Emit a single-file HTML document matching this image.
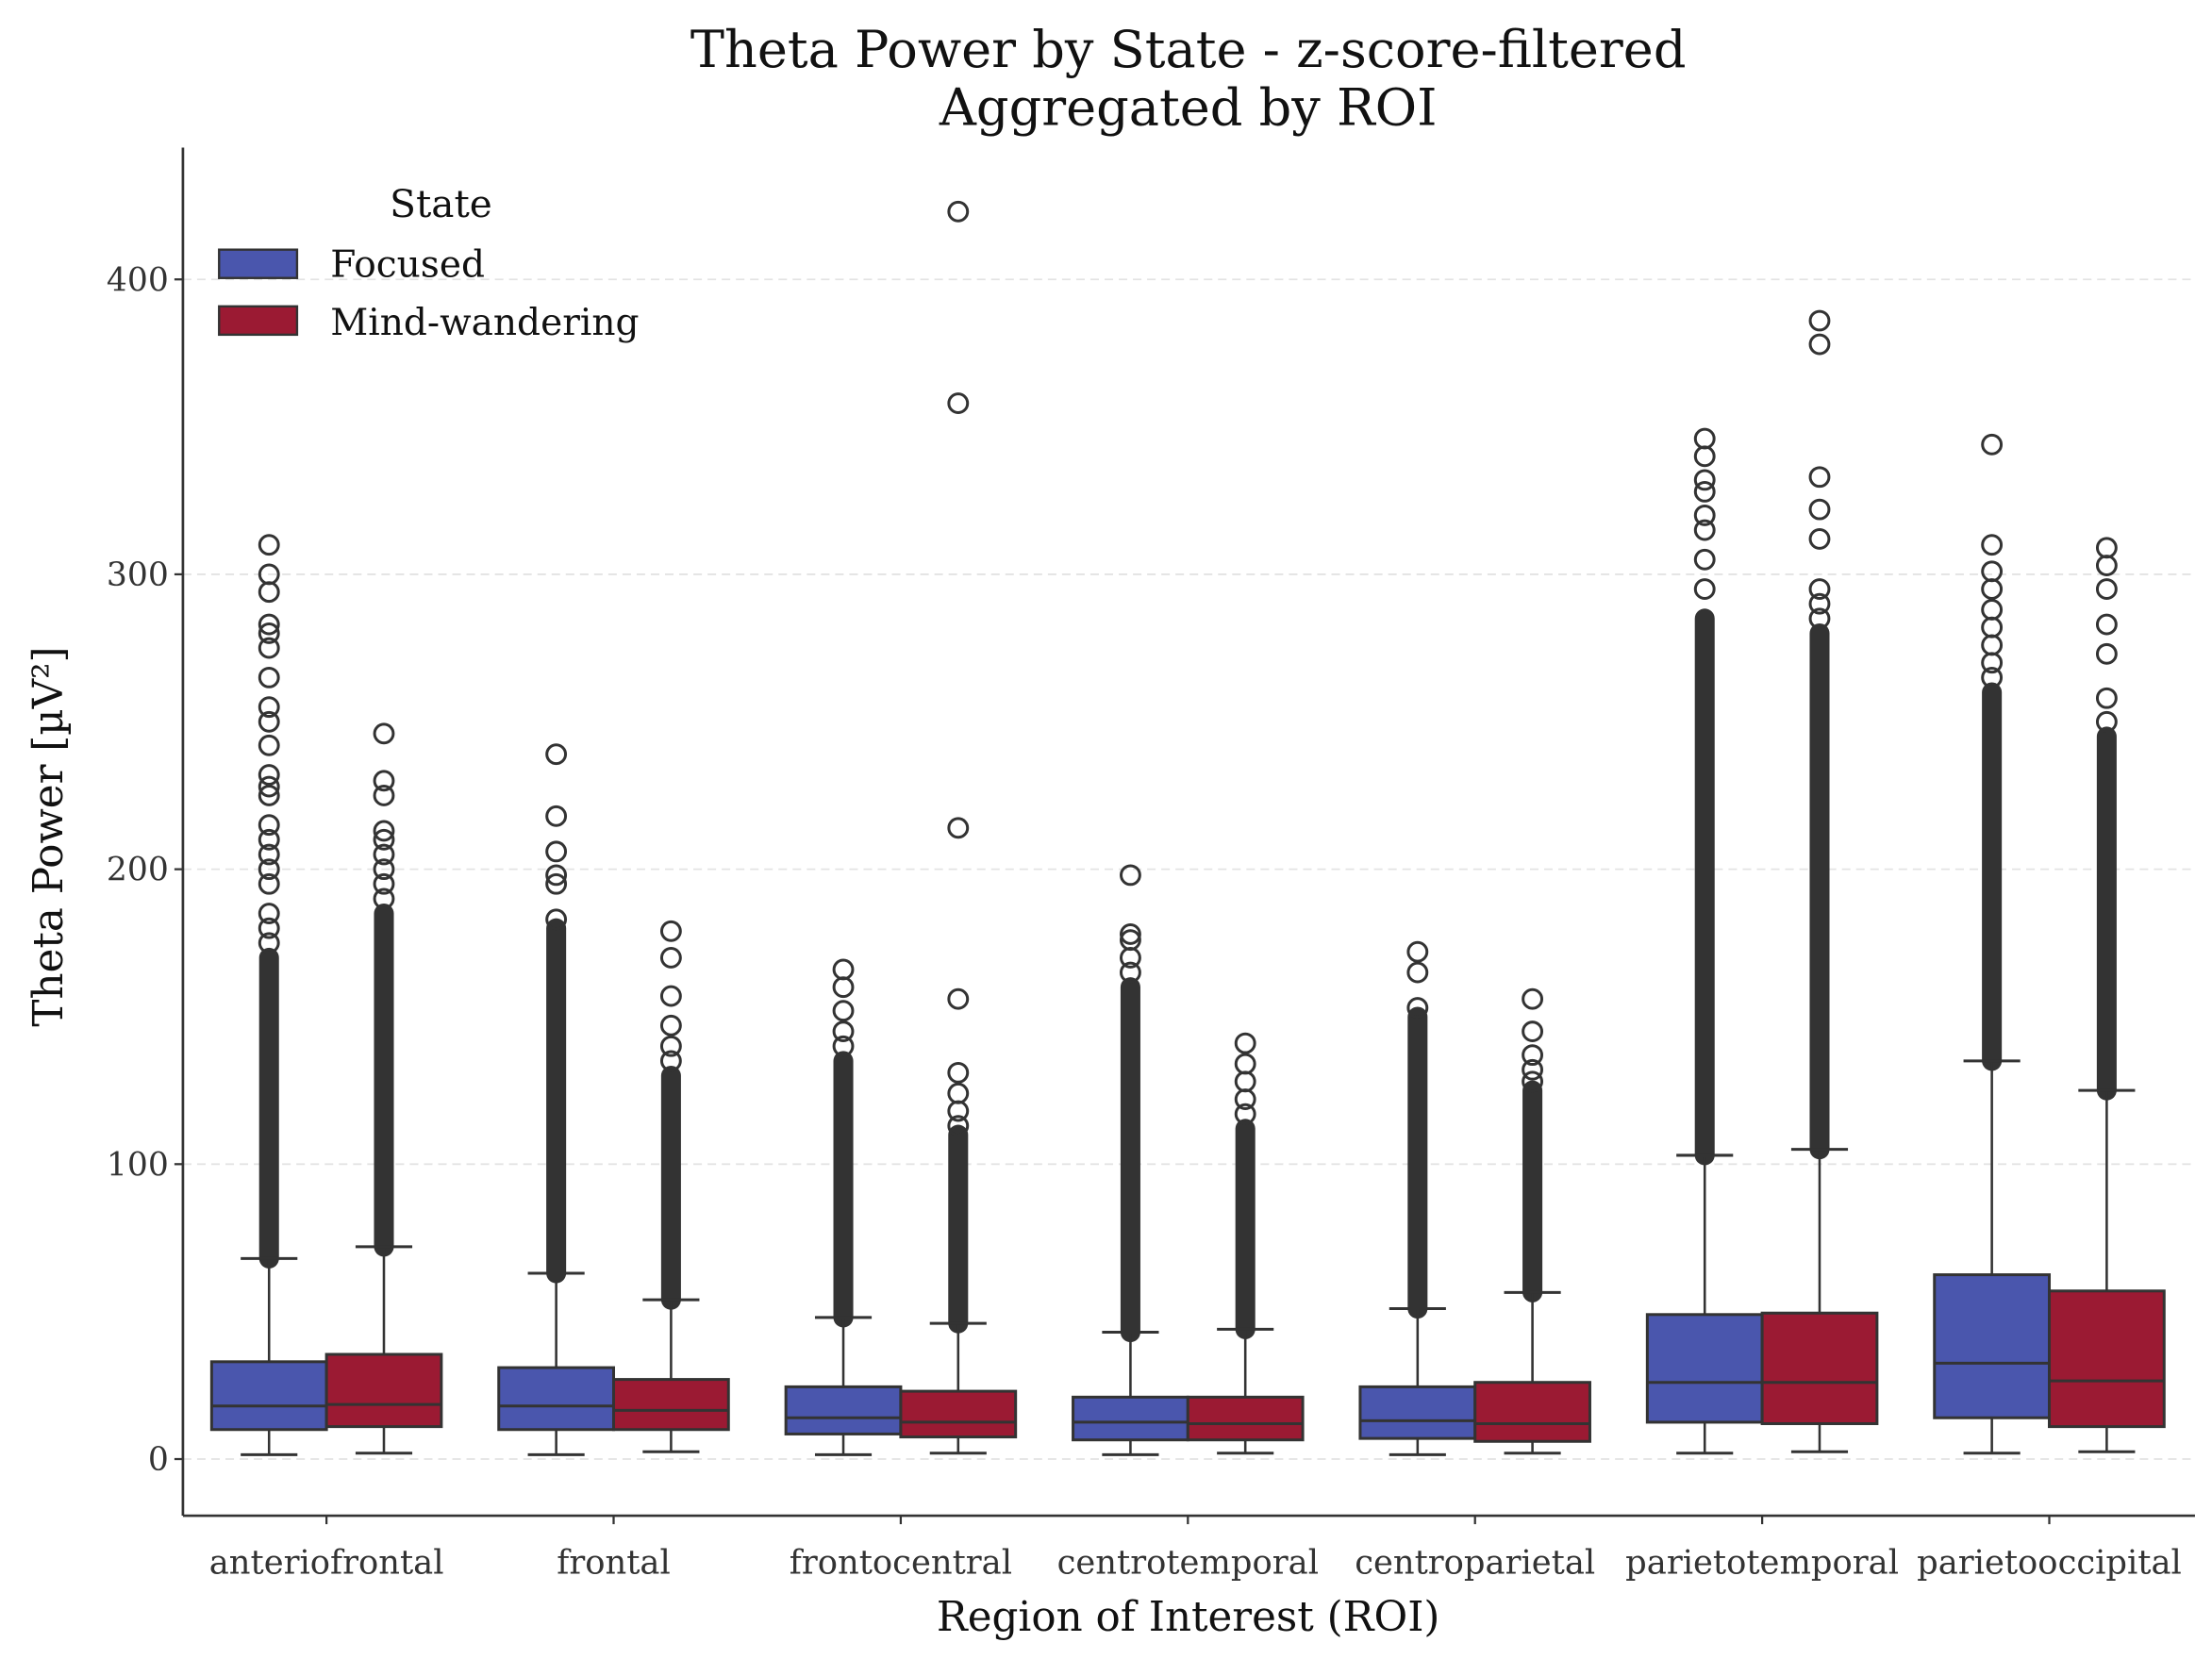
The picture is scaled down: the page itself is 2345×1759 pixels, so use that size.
<!DOCTYPE html>
<html><head><meta charset="utf-8">
<style>
html,body{margin:0;padding:0;background:#fff;}
svg{display:block;}
text{font-family:"DejaVu Serif","Liberation Serif",serif;}
</style></head>
<body>
<svg id="chart" width="2345" height="1759" viewBox="0 0 1560 1170" xmlns="http://www.w3.org/2000/svg">
<rect width="1560" height="1170" fill="#fff"/>
<text x="838" y="47" text-anchor="middle" font-size="36" fill="#111">Theta Power by State - z-score-filtered</text>
<text x="838" y="88" text-anchor="middle" font-size="36" fill="#111">Aggregated by ROI</text>
<g id="grid"></g>
<g id="boxes"></g>
<g id="axes"></g>
<text x="838" y="1150" text-anchor="middle" font-size="29" fill="#111">Region of Interest (ROI)</text>
<text transform="translate(44,590) rotate(-90)" text-anchor="middle" font-size="29" fill="#111">Theta Power [µV²]</text>
<g>
<text x="311" y="153" text-anchor="middle" font-size="27" fill="#111">State</text>
<rect x="154.5" y="176" width="55" height="20" fill="#4a56ad" stroke="#333" stroke-width="1.6"/>
<text x="233" y="195" font-size="26" fill="#111">Focused</text>
<rect x="154.5" y="216" width="55" height="20" fill="#9b1a33" stroke="#333" stroke-width="1.6"/>
<text x="233" y="236" font-size="26" fill="#111">Mind-wandering</text>
</g>
</svg>
<script>
const categories = ["anteriofrontal","frontal","frontocentral","centrotemporal","centroparietal","parietotemporal","parietooccipital"];
const yTicks = [0,100,200,300,400];
// Focused: [low whisker, q1, median, q3, high whisker]
const focusedStats = [[1.5,10,18,33,68],[1.5,10,18,31,63],[1.5,8.5,14,24.5,48],[1.5,6.5,12.5,21,43],[1.5,7,13,24.5,51],[2,12.5,26,49,103],[2,14,32.5,62.5,135]];
const mwStats = [[2,11,18.5,35.5,72],[2.5,10,16.5,27,54],[2,7.5,12.5,23,46],[2,6.5,12,21,44],[2,6,12,26,56.5],[2.5,12,26,49.5,105],[2.5,11,26.5,57,125]];
// top of densely packed outlier band
const focusedDenseTop = [170,180,135,160,150,285,260];
const mwDenseTop = [185,130,110,112,125,280,245];
const focusedOutliers = [[175,180,185,195,200,205,210,215,225,228,232,242,250,255,265,275,280,283,294,300,310],[183,195,198,206,218,239],[140,145,152,160,166],[165,170,176,178,198],[153,165,172],[295,305,315,320,328,332,340,346],[265,270,276,282,288,295,301,310,344]];
const mwOutliers = [[190,195,200,205,210,213,225,230,246],[135,140,147,157,170,179],[113,118,124,131,156,214,358,423],[117,122,128,134,141],[128,132,137,145,156],[285,290,295,312,322,333,378,386],[250,258,273,283,295,303,309]];

const NS="http://www.w3.org/2000/svg";
const plotL=129, plotR=1548, plotT=104, plotB=1069;
const yMin=-19.2, yMax=444.7;
function yScale(v){return plotB-(v-yMin)/(yMax-yMin)*(plotB-plotT);}
const step=202.5;
function xScale(i){return plotL+step*(i+0.5);}
const boxW=81;
function mk(tag,attrs,parent){const e=document.createElementNS(NS,tag);for(const k in attrs)e.setAttribute(k,attrs[k]);parent.appendChild(e);return e;}
const grid=document.getElementById('grid'), boxes=document.getElementById('boxes'), axes=document.getElementById('axes');

yTicks.forEach(t=>{
  const y=yScale(t);
  const g=mk('line',{x1:plotL,x2:plotR,y1:y,y2:y,stroke:'#e3e3e3','stroke-width':1.2,'stroke-dasharray':'6,4'},grid);
  
  
  const tk=mk('line',{x1:plotL-6,x2:plotL,y1:y,y2:y,stroke:'#333','stroke-width':1.5},axes);
  
  
  const lb=mk('text',{x:plotL-10,y:y+8,'text-anchor':'end','font-size':23,fill:'#333'},axes);
  lb.textContent=t;
  
  
});

function drawBox(cx,s,dense,outs,color,name){
  const g=mk('g',{},boxes);
  
  
  const [lo,q1,med,q3,hi]=s;
  mk('line',{x1:cx,x2:cx,y1:yScale(hi),y2:yScale(dense),stroke:'#333','stroke-width':14,'stroke-linecap':'round'},g);
  outs.forEach(v=>{
    const c=mk('circle',{cx:cx,cy:yScale(v),r:6.6,fill:'none',stroke:'#333','stroke-width':2},g);
    
    
  });
  mk('line',{x1:cx,x2:cx,y1:yScale(lo),y2:yScale(q1),stroke:'#333','stroke-width':1.7},g);
  mk('line',{x1:cx,x2:cx,y1:yScale(q3),y2:yScale(hi),stroke:'#333','stroke-width':1.7},g);
  mk('line',{x1:cx-20,x2:cx+20,y1:yScale(lo),y2:yScale(lo),stroke:'#333','stroke-width':2},g);
  mk('line',{x1:cx-20,x2:cx+20,y1:yScale(hi),y2:yScale(hi),stroke:'#333','stroke-width':2},g);
  mk('rect',{x:cx-boxW/2,y:yScale(q3),width:boxW,height:yScale(q1)-yScale(q3),fill:color,stroke:'#333','stroke-width':2},g);
  mk('line',{x1:cx-boxW/2,x2:cx+boxW/2,y1:yScale(med),y2:yScale(med),stroke:'#333','stroke-width':2},g);
}

categories.forEach((c,i)=>{
  const x=xScale(i);
  drawBox(x-boxW/2,focusedStats[i],focusedDenseTop[i],focusedOutliers[i],'#4a56ad','box-focused-'+c);
  drawBox(x+boxW/2,mwStats[i],mwDenseTop[i],mwOutliers[i],'#9b1a33','box-mind-wandering-'+c);
  const tk=mk('line',{x1:x,x2:x,y1:plotB,y2:plotB+6,stroke:'#333','stroke-width':1.5},axes);
  
  
  const lb=mk('text',{x:x,y:plotB+41,'text-anchor':'middle','font-size':23.5,fill:'#333'},axes);
  lb.textContent=c;
  
  
});

const ya=mk('line',{x1:plotL,x2:plotL,y1:plotT,y2:plotB,stroke:'#333','stroke-width':1.8},axes);


const xa=mk('line',{x1:plotL,x2:plotR,y1:plotB,y2:plotB,stroke:'#333','stroke-width':1.8},axes);


</script>
</body></html>
